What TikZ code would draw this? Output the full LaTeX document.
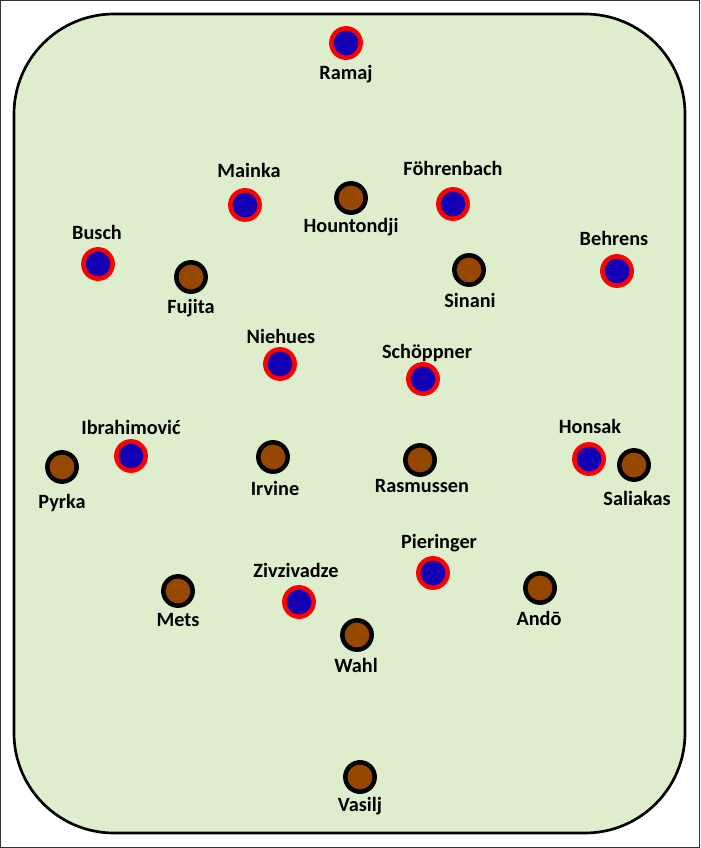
\documentclass[tikz,border=0pt]{standalone}
\usepackage{fontspec}
\setmainfont{Carlito}
\definecolor{pitch}{RGB}{222,238,205}
\definecolor{bluefill}{RGB}{20,0,180}
\definecolor{redring}{RGB}{255,0,0}
\definecolor{brownfill}{RGB}{150,72,0}
\begin{document}
\begin{tikzpicture}[x=0.75pt,y=-0.75pt,
  home/.style={circle,draw=redring,fill=bluefill,line width=3.4pt,minimum size=22pt,inner sep=0pt},
  away/.style={circle,draw=black,fill=brownfill,line width=3.4pt,minimum size=22pt,inner sep=0pt},
  lbl/.style={anchor=base,inner sep=0pt,font=\fontsize{15.2}{18}\selectfont\bfseries}]
\useasboundingbox (0,0) rectangle (700,848);
\draw[line width=0.9pt,draw=black!80] (0.6,0.6) rectangle (699.4,847.4);
\draw[fill=pitch,line width=2pt,rounded corners=75pt] (14,14) rectangle (685,833);
% home players (blue)
\node[home] (ramaj) at (346,43) {};
\node[lbl] (ramajL) at (346,80) {Ramaj};
\node[home] (mainka) at (245,205) {};
\node[lbl] (mainkaL) at (249,178) {Mainka};
\node[home] (fohr) at (453,204) {};
\node[lbl] (fohrL) at (453,176) {Föhrenbach};
\node[home] (busch) at (98,264) {};
\node[lbl] (buschL) at (97,240) {Busch};
\node[home] (behrens) at (617,271) {};
\node[lbl] (behrensL) at (614,246) {Behrens};
\node[home] (niehues) at (280,364) {};
\node[lbl] (niehuesL) at (281,343) {Niehues};
\node[home] (schopp) at (423,379) {};
\node[lbl] (schoppL) at (427,358) {Schöppner};
\node[home] (ibra) at (131,456) {};
\node[lbl] (ibraL) at (131,434) {Ibrahimović};
\node[home] (honsak) at (589,459) {};
\node[lbl] (honsakL) at (590,433) {Honsak};
\node[home] (pier) at (433,573) {};
\node[lbl] (pierL) at (439,548) {Pieringer};
\node[home] (zivz) at (299,602) {};
\node[lbl] (zivzL) at (296,577) {Zivzivadze};
% away players (brown)
\node[away] (hount) at (351,198) {};
\node[lbl] (hountL) at (351,233) {Hountondji};
\node[away] (fujita) at (191,277) {};
\node[lbl] (fujitaL) at (191,313) {Fujita};
\node[away] (sinani) at (469,270) {};
\node[lbl] (sinaniL) at (470,307) {Sinani};
\node[away] (pyrka) at (62,467) {};
\node[lbl] (pyrkaL) at (62,508) {Pyrka};
\node[away] (irvine) at (273,457) {};
\node[lbl] (irvineL) at (275,495) {Irvine};
\node[away] (rasm) at (420,460) {};
\node[lbl] (rasmL) at (422,492) {Rasmussen};
\node[away] (saliakas) at (634,465) {};
\node[lbl] (saliakasL) at (637,505) {Saliakas};
\node[away] (mets) at (178,591) {};
\node[lbl] (metsL) at (178,626) {Mets};
\node[away] (ando) at (540,588) {};
\node[lbl] (andoL) at (539,625) {Andō};
\node[away] (wahl) at (357,635) {};
\node[lbl] (wahlL) at (356,672) {Wahl};
\node[away] (vasilj) at (360,777) {};
\node[lbl] (vasiljL) at (360,811) {Vasilj};
\end{tikzpicture}
\end{document}
